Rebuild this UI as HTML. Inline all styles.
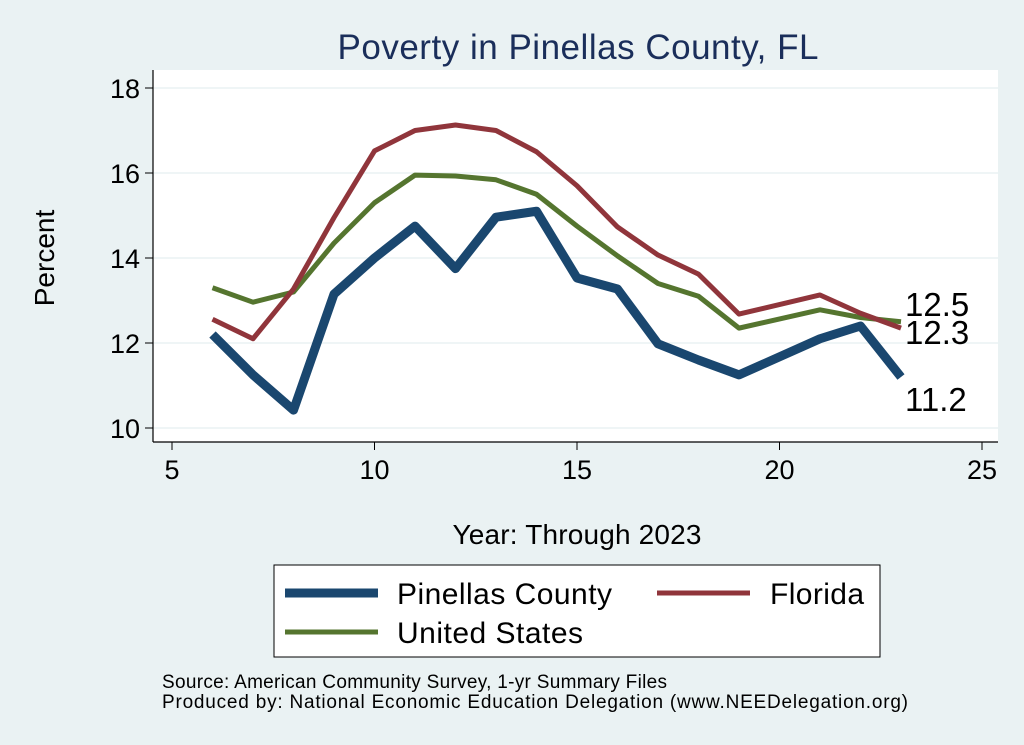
<!DOCTYPE html>
<html><head><meta charset="utf-8"><style>
body{margin:0;background:#eaf2f3;}
svg{display:block;font-family:"Liberation Sans",sans-serif;}
</style></head><body>
<svg id="chart" width="1024" height="745" viewBox="0 0 1024 745">
<rect x="0" y="0" width="1024" height="745" fill="#eaf2f3"/>
<text x="578" y="59" font-size="35" fill="#1a2e5a" text-anchor="middle" textLength="481">Poverty in Pinellas County, FL</text>
<rect x="153" y="70" width="845" height="372" fill="#ffffff"/>
<g id="grid"></g><g id="axes"></g><g id="series"></g>
<text x="54" y="258" font-size="28" text-anchor="middle" transform="rotate(-90 54 258)">Percent</text>
<text x="577" y="544" font-size="28" text-anchor="middle" textLength="249">Year: Through 2023</text>
<g>
<rect x="274" y="565" width="606" height="92" fill="#fff" stroke="#000" stroke-width="1"/>
<line x1="285" y1="593" x2="378" y2="593" stroke="#1a476f" stroke-width="9"/>
<text x="397" y="604" font-size="30" textLength="215">Pinellas County</text>
<line x1="657" y1="593" x2="750" y2="593" stroke="#90353b" stroke-width="5"/>
<text x="770" y="604" font-size="30" textLength="94">Florida</text>
<line x1="285" y1="632" x2="378" y2="632" stroke="#55752f" stroke-width="5"/>
<text x="397" y="643" font-size="30" textLength="186">United States</text>
</g>
<text x="162" y="688" font-size="19" textLength="505">Source: American Community Survey, 1-yr Summary Files</text>
<text x="162" y="708" font-size="19" textLength="746">Produced by: National Economic Education Delegation (www.NEEDelegation.org)</text>
</svg>
<script>
const years=[6,7,8,9,10,11,12,13,14,15,16,17,18,19,21,22,23];
const pinellas=[12.2,11.25,10.42,13.15,14.0,14.75,13.75,14.96,15.1,13.53,13.27,11.98,11.6,11.25,12.1,12.4,11.2];
const florida=[12.56,12.1,13.27,14.95,16.52,17.0,17.13,17.0,16.5,15.7,14.73,14.07,13.62,12.68,13.13,12.7,12.35];
const us=[13.3,12.96,13.2,14.35,15.3,15.95,15.93,15.84,15.5,14.75,14.05,13.4,13.1,12.35,12.78,12.6,12.5];
const xTicks=[5,10,15,20,25];
const yTicks=[10,12,14,16,18];
const endLabels=["11.2","12.3","12.5"];
const NS="http://www.w3.org/2000/svg";
const X=v=>172+(v-5)*40.5;
const Y=v=>428-(v-10)*42.5;
function mk(tag,attrs,parent){const e=document.createElementNS(NS,tag);for(const k in attrs)e.setAttribute(k,attrs[k]);parent.appendChild(e);return e;}
const grid=document.getElementById('grid'),axes=document.getElementById('axes'),ser=document.getElementById('series');
mk('line',{x1:153,y1:442,x2:998,y2:442,stroke:'#000','stroke-width':1.2},axes);
mk('line',{x1:153,y1:70,x2:153,y2:442,stroke:'#000','stroke-width':1.2},axes);
yTicks.forEach(t=>{
 const g=mk('line',{x1:153,y1:Y(t),x2:998,y2:Y(t),stroke:'#eaf2f3','stroke-width':1.5},grid);
 
 mk('line',{x1:145,y1:Y(t),x2:153,y2:Y(t),stroke:'#000'},axes);
 const tx=mk('text',{x:140,y:Y(t)+10,'font-size':27,'text-anchor':'end'},axes);tx.textContent=t;
 
});
xTicks.forEach(t=>{
 mk('line',{x1:X(t),y1:442,x2:X(t),y2:450,stroke:'#000'},axes);
 const tx=mk('text',{x:X(t),y:479,'font-size':27,'text-anchor':'middle'},axes);tx.textContent=t;
 
});
function line(vals,color,w,name){
 const p=mk('polyline',{points:years.map((y,i)=>X(y)+','+Y(vals[i])).join(' '),fill:'none',stroke:color,'stroke-width':w,'stroke-linejoin':'round'},ser);
 
}
line(us,'#55752f',5,'line-united-states');
line(florida,'#90353b',5,'line-florida');
line(pinellas,'#1a476f',9,'line-pinellas');
const last=years.length-1;
[[pinellas,endLabels[0],34],[florida,endLabels[1],16],[us,endLabels[2],-6]].forEach(([v,l,dy])=>{
 const t=mk('text',{x:X(years[last])+4,y:Y(v[last])+dy,'font-size':33},ser);t.textContent=l;
 
});
</script>
</body></html>
